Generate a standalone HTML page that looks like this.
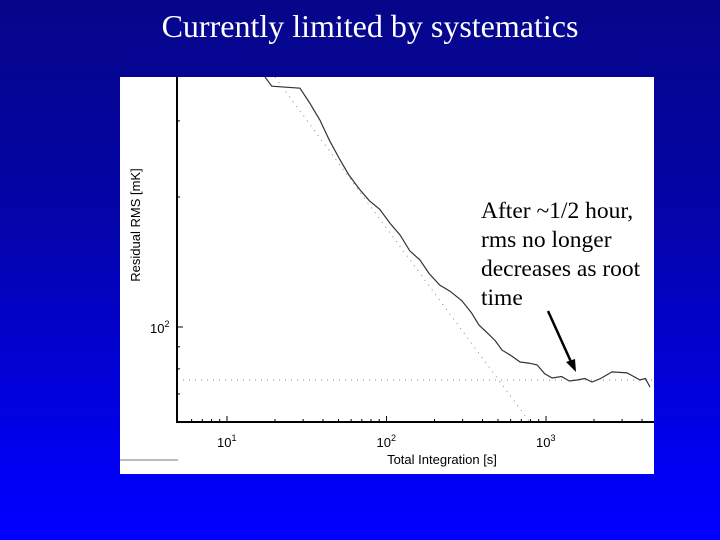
<!DOCTYPE html>
<html><head><meta charset="utf-8"><style>
html,body{margin:0;padding:0;width:720px;height:540px;overflow:hidden;}
body{background:linear-gradient(to bottom,#06068a 0%,#0404a8 40%,#0000f0 85%,#0000ff 100%);position:relative;font-family:"Liberation Serif",serif;}
#title{position:absolute;left:0;width:700px;padding-left:20px;top:7px;height:40px;text-align:center;color:#fff;font-size:32px;line-height:38px;white-space:nowrap;overflow:hidden;}
svg{position:absolute;left:0;top:0;display:block;overflow:hidden;}
</style></head><body>
<div id="title">Currently limited by systematics</div>
<svg width="720" height="540" id="chart"></svg>
<script>
const tValues=[17.3,19.1,28.7,33,38.3,44,51,58,68,78,91,105,122,140,162,185,216,250,297,340,380,427,480,530,600,687,780,879,980,1092,1250,1400,1565,1750,1942,2200,2592,2900,3220,3500,3885,4200,4487];
const rmsValues=[379,361,357,330,301,270,244,225,208,196,187,174,163,150,143,133,125,121,115,108,101,97,93,88.4,86,83,82.5,81.7,78,76.2,76.8,75,75.4,76,74.6,76,78.7,78.5,78.3,77,75.4,76,72.6];
const xTickVals=[10,100,1000];
const xTickLabels=["10","10","10"];
const xTickExp=["1","2","3"];
const yTickVals=[100];
const floorLevel=75.4;
const rootRef=[789,60.3];
const NS="http://www.w3.org/2000/svg";
const svg=document.getElementById('chart');
const X0=177,X1=654,Y0=77,Y1=422;
function xs(t){return 227+(Math.log10(t)-1)*159.5;}
function ys(v){return 327-(Math.log10(v)-2)*432;}
function mk(tag,attrs,parent){const e=document.createElementNS(NS,tag);for(const k in attrs)e.setAttribute(k,attrs[k]);(parent||svg).appendChild(e);return e;}
const panel=mk('rect',{x:120,y:77,width:534,height:397,fill:'#fff'});


const clip=mk('clipPath',{id:'pc'});mk('rect',{x:X0,y:Y0,width:X1-X0,height:Y1-Y0},clip);
const g=mk('g',{'clip-path':'url(#pc)'});
const fl=mk('line',{x1:X0,x2:X1,y1:ys(floorLevel),y2:ys(floorLevel),stroke:'#888','stroke-width':1,'stroke-dasharray':'1 5'},g);


const tA=20,tB=5000;
const rl=mk('line',{x1:xs(tA),y1:ys(rootRef[1]*Math.sqrt(rootRef[0]/tA)),x2:xs(tB),y2:ys(rootRef[1]*Math.sqrt(rootRef[0]/tB)),stroke:'#888','stroke-width':1,'stroke-dasharray':'1 5'},g);


let d='';tValues.forEach((t,i)=>{d+=(i?'L':'M')+xs(t).toFixed(1)+','+ys(rmsValues[i]).toFixed(1);});
const dl=mk('path',{d:d,fill:'none',stroke:'#333','stroke-width':1.2},g);


const ax=mk('path',{d:`M${X0},${Y0}V${Y1}H${X1}`,fill:'none',stroke:'#000','stroke-width':2});


for(let dec=0;dec<=3;dec++){for(let m=1;m<10;m++){const t=m*Math.pow(10,dec);const x=xs(t);if(x<X0+2||x>X1)continue;
 const len=m==1?6:3;mk('line',{x1:x,x2:x,y1:Y1,y2:Y1-len,stroke:'#000','stroke-width':1});}}
xTickVals.forEach((t,i)=>{const tx=mk('text',{x:xs(t)-10,y:447,'font-family':'Liberation Sans, sans-serif','font-size':13,fill:'#000'});
 tx.textContent=xTickLabels[i];
 
 
 const s=mk('tspan',{dy:-6,'font-size':9});s.textContent=xTickExp[i];tx.appendChild(s);});
[70,80,90,100,200,300].forEach(v=>{const y=ys(v);mk('line',{x1:X0,x2:X0+(v==100?6:3),y1:y,y2:y,stroke:'#000','stroke-width':1});});
yTickVals.forEach(v=>{const tx=mk('text',{x:150,y:ys(v)+6,'font-family':'Liberation Sans, sans-serif','font-size':13,fill:'#000'});
 tx.textContent='10';
 
 
 const s=mk('tspan',{dy:-6,'font-size':9});s.textContent='2';tx.appendChild(s);});
const yt=mk('text',{x:0,y:0,transform:'translate(140,225) rotate(-90)','text-anchor':'middle','font-family':'Liberation Sans, sans-serif','font-size':13,fill:'#000'});
yt.textContent='Residual RMS [mK]';


const xt=mk('text',{x:442,y:464,'text-anchor':'middle','font-family':'Liberation Sans, sans-serif','font-size':13,fill:'#000'});
xt.textContent='Total Integration [s]';


mk('line',{x1:120,x2:178,y1:460,y2:460,stroke:'#777','stroke-width':1});
['After ~1/2 hour,','rms no longer','decreases as root','time'].forEach((s,i)=>{const t=mk('text',{x:481,y:218+i*29,'font-family':'Liberation Serif, serif','font-size':23.5,fill:'#000'});t.textContent=s;
 
 });
const ar=mk('line',{x1:548,y1:311,x2:572,y2:364,stroke:'#000','stroke-width':2.5});


mk('polygon',{points:'576,372 566,362 575,359',fill:'#000'});
</script>
</body></html>
